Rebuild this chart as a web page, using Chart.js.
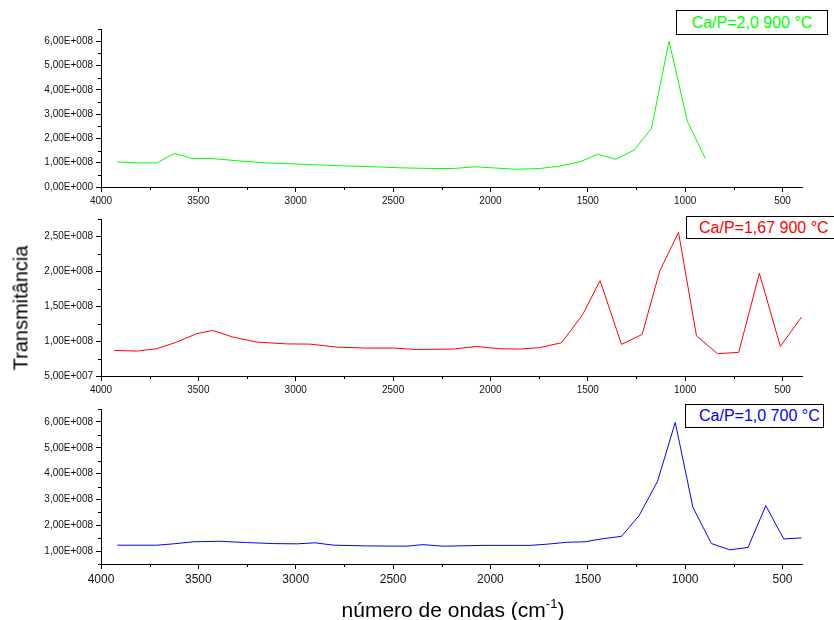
<!DOCTYPE html>
<html>
<head>
<meta charset="utf-8">
<script src="https://cdn.jsdelivr.net/npm/chart.js@4.4.0/dist/chart.umd.min.js"></script>
<style>
  body { margin: 0; width: 834px; height: 620px; overflow: hidden; background: #fff; position: relative;
         font-family: "Liberation Sans", Arial, sans-serif; }
  canvas { position: absolute; left: 0; }
  .tag { position: absolute; box-sizing: border-box; border: 1px solid #000; background: #fff;
         font-size: 16px; white-space: nowrap; overflow: hidden; }
  .ytitle { position: absolute; left: 21px; top: 308px; font-size: 20px; white-space: nowrap;
            transform: translate(-50%, -50%) rotate(-90deg); }
  .xtitle { position: absolute; left: 453px; top: 599px; font-size: 21px; line-height: 21px;
            white-space: nowrap; transform: translateX(-50%); }
  .xtitle span { font-size: 13px; position: relative; top: -9px; }
</style>
</head>
<body>
<canvas id="c1" width="834" height="210" style="top:0"></canvas>
<canvas id="c2" width="834" height="190" style="top:210px"></canvas>
<canvas id="c3" width="834" height="220" style="top:400px"></canvas>

<div class="tag" style="left:676px;top:10px;width:152px;height:25px;line-height:23px;text-align:center;color:#00ff00">Ca/P=2,0 900 °C</div>
<div class="tag" style="left:686px;top:216px;width:170px;height:23px;line-height:21px;padding-left:12px;color:#ff0000">Ca/P=1,67 900 °C</div>
<div class="tag" style="left:685px;top:404px;width:139px;height:24px;line-height:22px;padding-left:13px;color:#0000ff">Ca/P=1,0 700 °C</div>

<div class="ytitle">Transmitância</div>
<div class="xtitle">número de ondas (cm<span>-1</span>)</div>

<script>
// wavenumber axis (cm-1), shared by the three panels
const xTicks = [4000, 3500, 3000, 2500, 2000, 1500, 1000, 500];
const xMinor = [3750, 3250, 2750, 2250, 1750, 1250, 750];

// Ca/P = 2,0 at 900 °C
const wnA = [3916, 3817, 3714, 3622, 3529, 3432, 3300, 3150, 2978, 2756, 2560, 2465, 2294, 2191,
             2080, 1866, 1748, 1644, 1541, 1449, 1356, 1262, 1173, 1083, 988, 896];
const trA = [1.03e8, 0.99e8, 0.99e8, 1.38e8, 1.17e8, 1.17e8, 1.08e8, 0.99e8, 0.94e8, 0.87e8, 0.82e8,
             0.79e8, 0.76e8, 0.76e8, 0.83e8, 0.73e8, 0.76e8, 0.86e8, 1.03e8, 1.35e8, 1.14e8, 1.52e8,
             2.41e8, 6.0e8, 2.69e8, 1.17e8];
const yTicksA = [0, 1e8, 2e8, 3e8, 4e8, 5e8, 6e8];
const yMinorA = [0.5e8, 1.5e8, 2.5e8, 3.5e8, 4.5e8, 5.5e8, 6.5e8];

// Ca/P = 1,67 at 900 °C
const wnB = [3932, 3817, 3714, 3611, 3509, 3427, 3321, 3201, 3047, 2927, 2790, 2636, 2499, 2380,
             2191, 2071, 1952, 1850, 1748, 1635, 1527, 1437, 1327, 1221, 1130, 1034, 942, 834, 725,
             619, 511, 403];
const trB = [0.867e8, 0.857e8, 0.89e8, 0.986e8, 1.106e8, 1.153e8, 1.057e8, 0.986e8, 0.96e8, 0.957e8,
             0.914e8, 0.90e8, 0.90e8, 0.88e8, 0.886e8, 0.924e8, 0.89e8, 0.886e8, 0.906e8, 0.977e8,
             1.377e8, 1.867e8, 0.953e8, 1.096e8, 2.01e8, 2.557e8, 1.077e8, 0.82e8, 0.839e8, 1.971e8,
             0.924e8, 1.343e8];
const yTicksB = [0.5e8, 1e8, 1.5e8, 2e8, 2.5e8];
const yMinorB = [0.75e8, 1.25e8, 1.75e8, 2.25e8, 2.75e8];

// Ca/P = 1,0 at 700 °C
const wnC = [3916, 3714, 3629, 3526, 3389, 3252, 3115, 2995, 2901, 2807, 2636, 2431, 2346, 2243,
             2038, 1798, 1704, 1610, 1516, 1422, 1327, 1237, 1142, 1051, 960, 865, 771, 677, 586,
             494, 403];
const trC = [1.228e8, 1.228e8, 1.28e8, 1.36e8, 1.38e8, 1.33e8, 1.29e8, 1.28e8, 1.32e8, 1.23e8, 1.20e8,
             1.19e8, 1.25e8, 1.19e8, 1.22e8, 1.22e8, 1.27e8, 1.34e8, 1.36e8, 1.48e8, 1.57e8, 2.37e8,
             3.70e8, 5.98e8, 2.69e8, 1.29e8, 1.05e8, 1.14e8, 2.76e8, 1.47e8, 1.51e8];
const yTicksC = [1e8, 2e8, 3e8, 4e8, 5e8, 6e8];
const yMinorC = [0.5e8, 1.5e8, 2.5e8, 3.5e8, 4.5e8, 5.5e8, 6.5e8];

const FONT = '"Liberation Sans", Arial, sans-serif';

// 6,00E+008 style labels
function sci(v) {
  if (v === 0) return '0,00E+000';
  const e = Math.floor(Math.log10(v) + 1e-9);
  const m = v / Math.pow(10, e);
  return m.toFixed(2).replace('.', ',') + 'E+' + String(e).padStart(3, '0');
}

// short outward ticks between the labelled ones
const minorTicks = {
  id: 'minorTicks',
  afterDraw(chart, args, opts) {
    const ctx = chart.ctx, xs = chart.scales.x, ys = chart.scales.y;
    ctx.save();
    ctx.strokeStyle = '#000';
    ctx.lineWidth = 1;
    ctx.beginPath();
    (opts.x || []).forEach(v => {
      const px = Math.round(xs.getPixelForValue(v)) + 0.5;
      ctx.moveTo(px, xs.top);
      ctx.lineTo(px, xs.top + 3);
    });
    (opts.y || []).forEach(v => {
      const py = Math.round(ys.getPixelForValue(v)) + 0.5;
      ctx.moveTo(ys.right, py);
      ctx.lineTo(ys.right - 3, py);
    });
    ctx.stroke();
    ctx.restore();
  }
};

function panel(id, wn, tr, color, yMin, yMax, yTicks, yMinor, padTop, xHeight, xFont) {
  return new Chart(id, {
    type: 'line',
    data: {
      datasets: [{
        data: wn.map((w, i) => ({ x: w, y: tr[i] })),
        borderColor: color,
        borderWidth: 1,
        pointRadius: 0,
        tension: 0,
        fill: false
      }]
    },
    options: {
      responsive: false,
      animation: false,
      events: [],
      layout: { padding: { top: padTop, right: 32, left: 0, bottom: 0 } },
      plugins: {
        legend: { display: false },
        tooltip: { enabled: false },
        minorTicks: { x: xMinor, y: yMinor }
      },
      scales: {
        x: {
          type: 'linear',
          reverse: true,
          min: 400,
          max: 4000,
          afterBuildTicks: s => { s.ticks = xTicks.map(v => ({ value: v })); },
          afterFit: s => { s.height = xHeight; },
          grid: { drawOnChartArea: false, tickLength: 5, color: '#000' },
          border: { color: '#000', width: 1 },
          ticks: { color: '#111', font: { family: FONT, size: xFont }, maxRotation: 0, autoSkip: false,
                   padding: 3, callback: v => String(v) }
        },
        y: {
          min: yMin,
          max: yMax,
          afterBuildTicks: s => { s.ticks = yTicks.map(v => ({ value: v })); },
          afterFit: s => { s.width = 101; },
          grid: { drawOnChartArea: false, tickLength: 5, color: '#000' },
          border: { color: '#000', width: 1 },
          ticks: { color: '#111', font: { family: FONT, size: 10 }, padding: 3, callback: v => sci(v) }
        }
      }
    },
    plugins: [minorTicks]
  });
}

panel('c1', wnA, trA, '#00ff00', 0, 6.5e8, yTicksA, yMinorA, 29, 23, 10);
panel('c2', wnB, trB, '#ff0000', 0.5e8, 2.75e8, yTicksB, yMinorB, 9, 24, 10);
panel('c3', wnC, trC, '#0000ff', 0.5e8, 6.5e8, yTicksC, yMinorC, 8, 56, 12);
</script>
</body>
</html>
